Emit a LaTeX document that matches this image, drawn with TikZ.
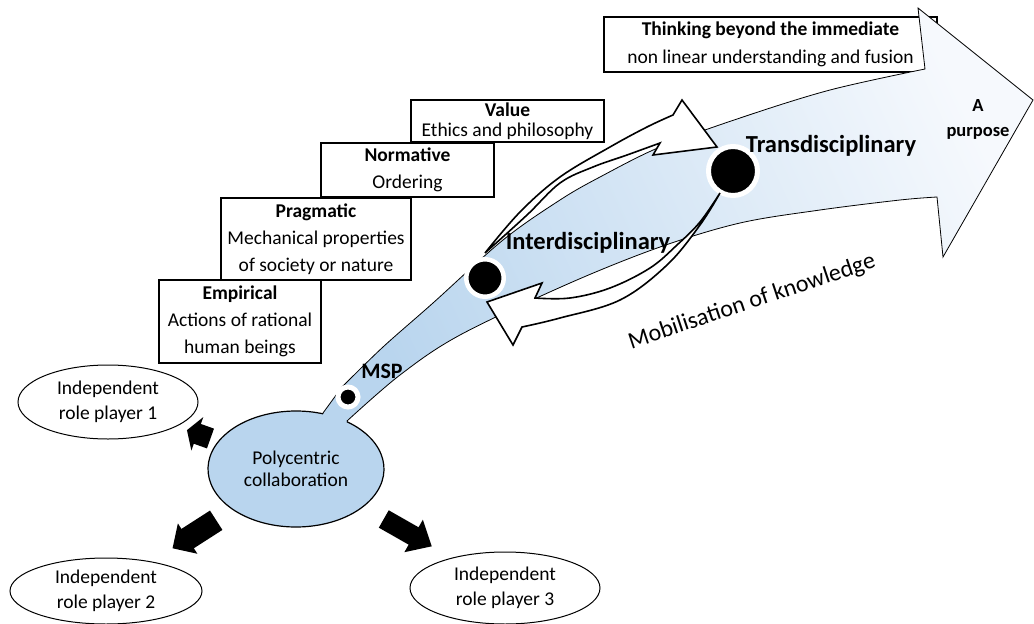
\documentclass[tikz,border=0pt]{standalone}
\usepackage{fontspec}
\setmainfont{Carlito}
\usetikzlibrary{shapes.geometric,arrows.meta,calc}
\definecolor{polyblue}{RGB}{185,213,238}
\definecolor{midblue}{RGB}{226,236,248}
\definecolor{paleblue}{RGB}{246,249,253}
\begin{document}
\begin{tikzpicture}[x=1pt,y=-1pt,
  levelbox/.style={draw,line width=1.8pt,fill=white,inner sep=0pt,align=center,
    font=\fontsize{19.5}{27}\selectfont},
  roleplayer/.style={ellipse,draw,line width=1pt,fill=white,inner sep=0pt,align=center,
    font=\fontsize{19.5}{25}\selectfont},
  stagelabel/.style={font=\bfseries\fontsize{24.5}{28}\selectfont},
  blockarrow/.style={draw=black},
  loopback/.style={draw,line width=1.6pt,fill=white,line join=miter},
  knot/.style={circle,fill=black,draw=white,inner sep=0pt}
]
\useasboundingbox (0,0) rectangle (1034,624);

% levels of knowledge
\node[levelbox,minimum width=333pt,minimum height=55pt,font=\fontsize{19.5}{28}\selectfont]
  (beyond) at (770.5,44.5) {\textbf{Thinking beyond the immediate}\\non linear understanding and fusion};
\node[levelbox,minimum width=193pt,minimum height=42pt,font=\fontsize{19.5}{20}\selectfont]
  (value) at (507.5,121) {\textbf{Value}\\Ethics and philosophy};
\node[levelbox,minimum width=173pt,minimum height=54pt]
  (normative) at (407.5,170) {\textbf{Normative}\\Ordering};
\node[levelbox,minimum width=190pt,minimum height=82pt]
  (pragmatic) at (316,239) {\textbf{Pragmatic}\\Mechanical properties\\of society or nature};
\node[levelbox,minimum width=162pt,minimum height=83pt]
  (empirical) at (240,321.5) {\textbf{Empirical}\\Actions of rational\\human beings};

% the curved arrow of knowledge mobilisation
\shade[left color=polyblue,middle color=midblue,right color=paleblue,shading angle=115,
  draw=black,line width=0.8pt]
  (318,445) -- (323,413) -- (342,387)
  -- plot[smooth,tension=0.55] coordinates {(342,387) (383,347) (433,303) (503,240) (560,200)
     (600,177) (660,147) (740,118) (830,90) (925,69)}
  -- (918,8) -- (1033,100) -- (943,257) -- (937,197)
  -- plot[smooth,tension=0.55] coordinates {(937,197) (900,200) (820,210) (740,223) (660,247)
     (570,283) (460,335) (400,375) (347,421)}
  -- (352,445) -- cycle;

% polycentric collaboration and the role players
\node[ellipse,fill=polyblue,inner sep=0pt,minimum width=176pt,minimum height=116pt,align=center,
  font=\fontsize{19.5}{22}\selectfont] (poly) at (296,469) {Polycentric\\collaboration};
\draw[line width=1.2pt] (poly.center) ++(-54.6:88 and 58)
  arc[start angle=-54.6,end angle=287.9,x radius=88,y radius=58];

\node[roleplayer,minimum width=180pt,minimum height=74pt] (rp1) at (108,402) {Independent\\role player 1};
\node[roleplayer,minimum width=192pt,minimum height=66pt] (rp2) at (106,591) {Independent\\role player 2};
\node[roleplayer,minimum width=190pt,minimum height=72pt] (rp3) at (505,588) {Independent\\role player 3};

\draw[blockarrow,line width=21pt,-{Triangle[width=35pt,length=11pt]}]
  ($(poly)!0.455!(rp1)$) -- ($(poly)!0.58!(rp1)$);
\draw[blockarrow,line width=23pt,-{Triangle[width=35pt,length=18pt]}]
  ($(poly)!0.42!(rp2)$) -- ($(poly)!0.65!(rp2)$);
\draw[blockarrow,line width=20pt,-{Triangle[width=36pt,length=21pt]}]
  ($(poly)!0.42!(rp3)$) -- ($(poly)!0.65!(rp3)$);

% stages along the way
\node[knot,minimum size=20pt,line width=5pt] (msp) at (348,397) {};
\node[knot,minimum size=37.5pt,line width=4.5pt] (inter) at (485,278) {};
\node[knot,minimum size=49pt,line width=5pt] (trans) at (733,171) {};

\node[font=\bfseries\fontsize{22}{24}\selectfont] (msplabel) at (382,371) {MSP};
\node[stagelabel] (interlabel) at (588,243) {Interdisciplinary};
\node[stagelabel] (translabel) at (831,146) {Transdisciplinary};
\node[font=\bfseries\fontsize{18.5}{25}\selectfont,align=center] (purpose) at (978,119) {A\\purpose};

% feedback loop between the two stages
\draw[loopback] (485,253)
  -- plot[smooth,tension=0.6] coordinates {(485,253) (520,212) (560,177) (610,147) (647,127) (673,115)}
  -- (682,100) -- (717,147) -- (653,155) -- (660,143)
  -- plot[smooth,tension=0.6] coordinates {(660,143) (627,155) (593,167) (560,183) (527,215) (485,253)}
  -- cycle;
\draw[loopback] (720,193)
  -- plot[smooth,tension=0.6] coordinates {(720,193) (700,222) (677,245) (650,268) (610,288) (570,298) (535,298)}
  -- (542,283) -- (487,302) -- (513,345) -- (522,327)
  -- plot[smooth,tension=0.6] coordinates {(522,327) (560,318) (620,300) (667,265) (700,225) (720,193)}
  -- cycle;

\node[rotate=18.5,font=\fontsize{24}{26}\selectfont] (mobil) at (752,302) {Mobilisation of knowledge};
\end{tikzpicture}
\end{document}
